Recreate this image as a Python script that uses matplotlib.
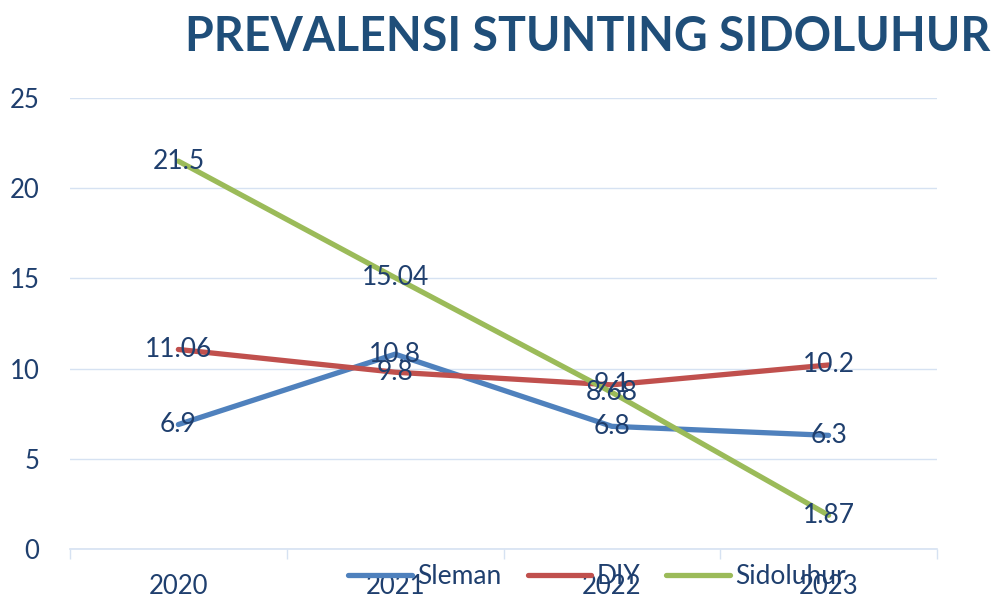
import matplotlib.pyplot as plt
import numpy as np

# data
years = ['2020', '2021', '2022', '2023']
sleman = [6.9, 10.8, 6.8, 6.3]
diy = [11.06, 9.8, 9.1, 10.2]
sidoluhur = [21.5, 15.04, 8.68, 1.87]
y_ticks = [0, 5, 10, 15, 20, 25]

series = [('Sleman', sleman, '#4F81BD'),
          ('DIY', diy, '#C0504D'),
          ('Sidoluhur', sidoluhur, '#9BBB59')]

text_col = '#1F3F6E'
grid_col = '#D6E2F2'
plt.rcParams['font.family'] = ['Lato', 'DejaVu Sans']

fig = plt.figure(figsize=(9.93, 5.98), dpi=100)
ax = fig.add_axes([70 / 993, 49 / 598, 867 / 993, 451 / 598])

x = np.arange(len(years))
for name, vals, col in series:
    ax.plot(x, vals, color=col, linewidth=3.8, label=name, solid_capstyle='round')

# data labels centred on the points
for name, vals, col in series:
    for xi, v in zip(x, vals):
        ax.text(xi, v, f'{v:g}', ha='center', va='center', fontsize=19, color=text_col)

ax.set_xlim(-0.5, len(years) - 0.5)
ax.set_ylim(0, 25)
ax.set_yticks(y_ticks)
ax.set_xticks(x)
ax.set_xticklabels(years)
ax.set_xticks(np.arange(-0.5, len(years), 1), minor=True)
ax.tick_params(axis='y', length=0, pad=22, labelsize=18.5, labelcolor=text_col)
ax.tick_params(axis='x', which='major', length=0, pad=18, labelsize=18.5, labelcolor=text_col)
ax.tick_params(axis='x', which='minor', length=7, width=1, color=grid_col)

ax.grid(axis='y', color=grid_col, linewidth=1)
ax.set_axisbelow(True)
for s in ['top', 'right', 'left']:
    ax.spines[s].set_visible(False)
ax.spines['bottom'].set_color(grid_col)
ax.spines['bottom'].set_linewidth(1.2)

fig.text(990 / 993, 1 - 37 / 598, 'PREVALENSI STUNTING SIDOLUHUR', ha='right', va='center',
         fontsize=33.5, fontweight='bold', color='#1F4E79')

fig.legend(loc='center', bbox_to_anchor=(597 / 993, 21 / 598), ncol=3, frameon=False,
           fontsize=19, labelcolor=text_col, handlelength=2.4, columnspacing=1.0,
           handletextpad=0.2)

fig.savefig('out.png', dpi=100)
